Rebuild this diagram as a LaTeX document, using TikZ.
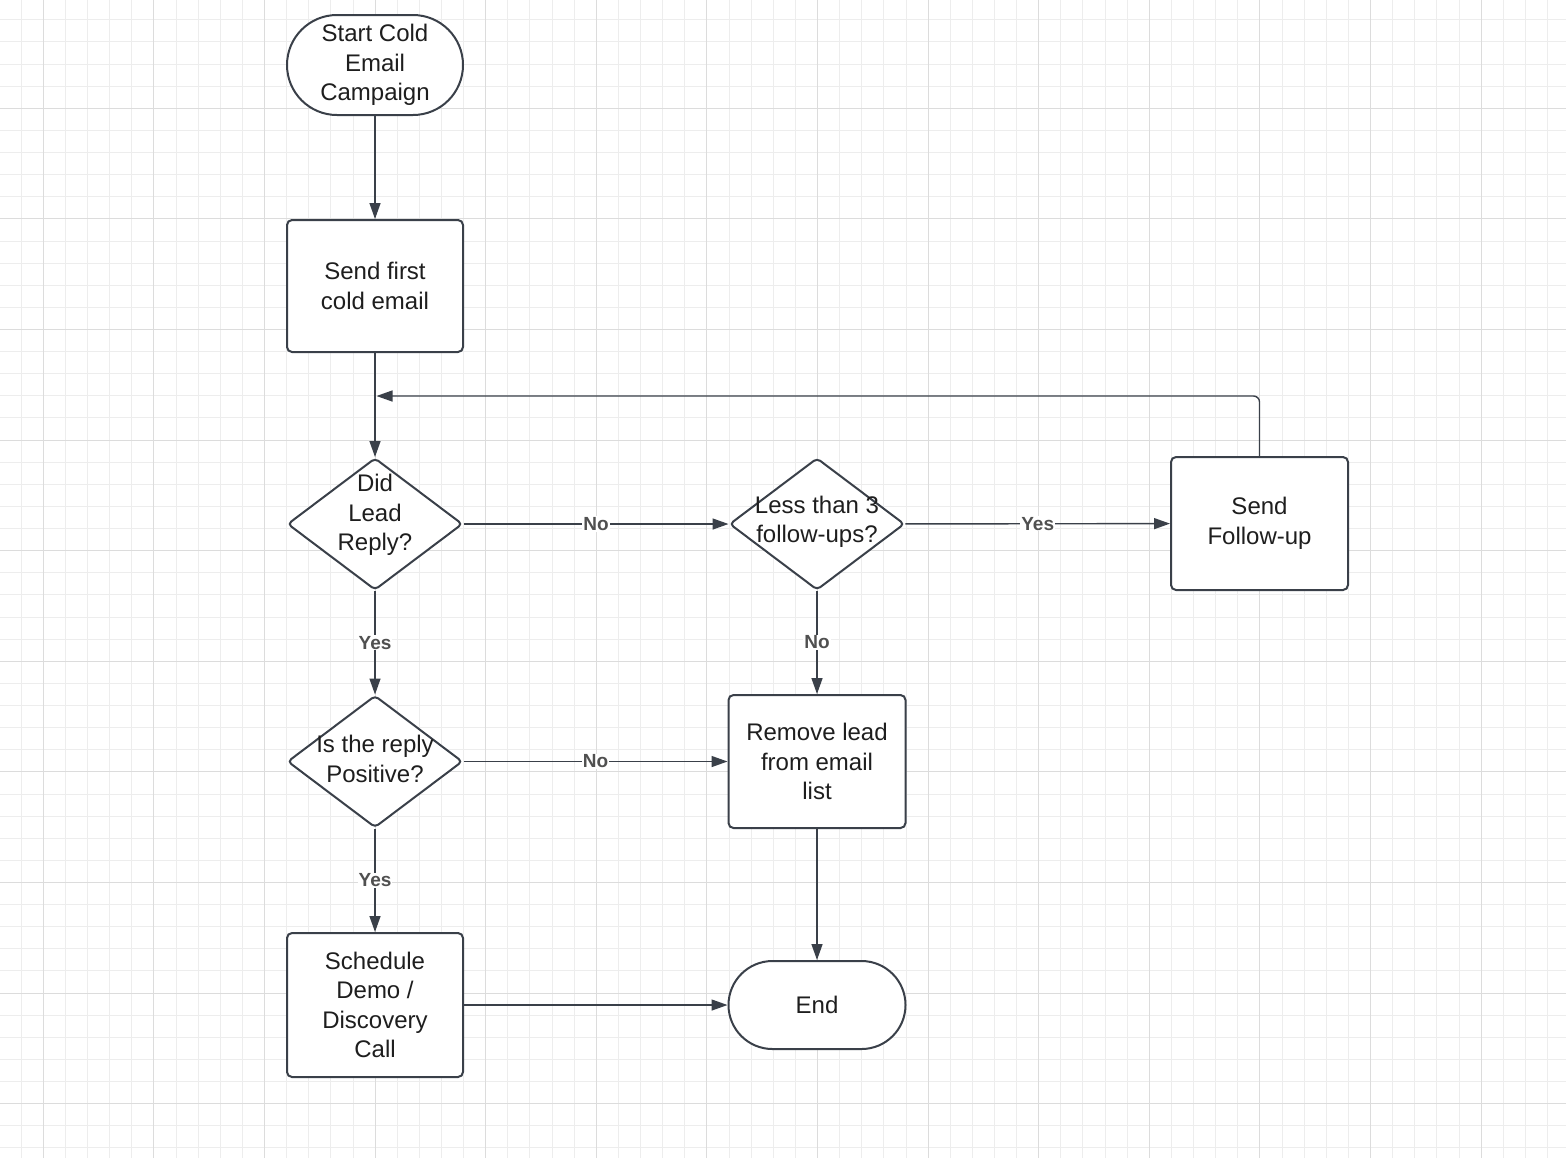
\documentclass[tikz,border=0pt]{standalone}
\usepackage{fontspec}
\setmainfont{Liberation Sans}
\usetikzlibrary{shapes.geometric,arrows.meta}
\definecolor{ln}{HTML}{3A4049}
\definecolor{gmin}{HTML}{EDEDED}
\definecolor{gmaj}{HTML}{DCDCDC}
\definecolor{tx}{HTML}{1E1E1E}
\definecolor{lb}{HTML}{505050}
\begin{document}
\begin{tikzpicture}[x=0.5pt,y=-0.5pt,
  nodetext/.style={text=tx, align=center, font=\fontsize{12}{14.75}\selectfont},
  box/.style={nodetext, draw=ln, line width=1pt, rounded corners=2.5pt, fill=white, inner sep=0pt, minimum width=88pt, minimum height=66pt},
  term/.style={nodetext, draw=ln, line width=1pt, fill=white, inner sep=0pt, minimum width=88pt},
  dec/.style={diamond, draw=ln, line width=1pt, fill=white, rounded corners=2pt, inner sep=0pt, minimum width=87.5pt, minimum height=66pt},
  conn/.style={draw=ln, line width=0.7pt, -{Triangle[length=8pt,width=5.5pt]}},
  lab/.style={text=lb, fill=white, inner sep=0.5pt, font=\bfseries\fontsize{9.5}{11}\selectfont}
]
\useasboundingbox (0,0) rectangle (1566,1158);
\fill[white] (0,0) rectangle (1566,1158);
\begin{scope}
\clip (0,0) rectangle (1566,1158);
\foreach \i in {0,...,71} {\draw[gmin, line width=0.5pt] ({21.2+22.12*\i},0) -- ++(0,1158);}
\foreach \i in {0,...,53} {\draw[gmin, line width=0.5pt] (0,{19.8+22.12*\i}) -- ++(1566,0);}
\foreach \i in {0,...,13} {\draw[gmaj, line width=0.5pt] ({43.3+110.6*\i},0) -- ++(0,1158);}
\foreach \i in {0,...,9} {\draw[gmaj, line width=0.5pt] (0,{108.3+110.6*\i}) -- ++(1566,0);}
\end{scope}

% nodes
\node[term, minimum height=50pt, rounded corners=25pt] (start) at (375,65) {Start Cold\\Email\\Campaign};
\node[box] (send1) at (375,286) {Send first\\cold email};
\node[dec] (did) at (375,524) {};
\node[nodetext] (didt) at (375,515) {Did\\Lead\\Reply?};
\node[dec] (less) at (817,524) {};
\node[nodetext] (lesst) at (817,522) {Less than 3\\follow-ups?};
\node[box, minimum width=88.5pt, minimum height=66.5pt] (fu) at (1259.5,523.5) {Send\\Follow-up};
\node[dec] (pos) at (375,761.5) {};
\node[nodetext] (post) at (375,759) {Is the reply\\Positive?};
\node[box, minimum width=88.5pt, minimum height=66.5pt] (rem) at (817,761.5) {Remove lead\\from email\\list};
\node[box, minimum height=72pt] (sched) at (375,1005) {Schedule\\Demo /\\Discovery\\Call};
\node[term, minimum width=88.5pt, minimum height=44pt, rounded corners=22pt] (end) at (817,1005) {End};
\coordinate (lp) at (376.5,396);

% connectors
\draw[conn] (start) -- (send1);
\draw[conn] (send1) -- (did);
\draw[conn, rounded corners=3pt] (fu.north) |- (lp);
\draw[conn] (did) -- node[lab] {No} (less);
\draw[conn] (less) -- node[lab] {Yes} (fu);
\draw[conn] (did) -- node[lab] {Yes} (pos);
\draw[conn] (less) -- node[lab] {No} (rem);
\draw[conn] (pos) -- node[lab] {No} (rem.west |- pos.east);
\draw[conn] (pos) -- node[lab] {Yes} (sched);
\draw[conn] (rem) -- (end);
\draw[conn] (sched.east |- end.west) -- (end);
\end{tikzpicture}
\end{document}
